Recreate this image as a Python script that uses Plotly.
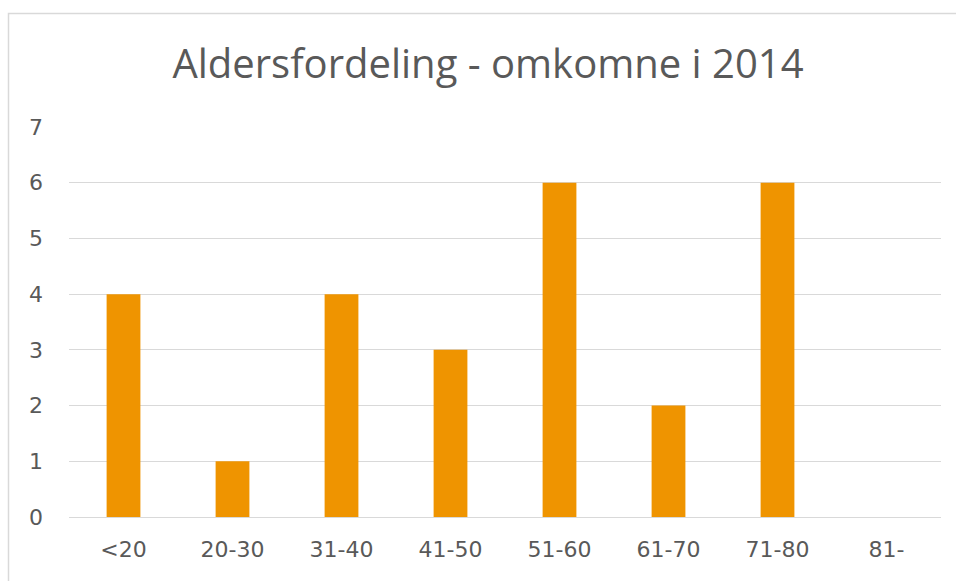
import plotly.graph_objects as go

categories = ["<20", "20-30", "31-40", "41-50", "51-60", "61-70", "71-80", "81-"]
values = [4, 1, 4, 3, 6, 2, 6, 0]
y_ticks = [0, 1, 2, 3, 4, 5, 6, 7]

W, H = 956, 581
L, R, T, B = 69, 15, 127, 64
pw, ph = W - L - R, H - T - B

def px_x(p):
    return (p - L) / pw

def px_y(p):
    return (H - B - p) / ph

fig = go.Figure(go.Bar(
    x=categories, y=values, width=0.31,
    marker=dict(color="#EF9400", line=dict(width=0)),
))

fig.update_layout(
    width=W, height=H,
    margin=dict(l=L, r=R, t=T, b=B),
    paper_bgcolor="white", plot_bgcolor="white",
    font=dict(family="DejaVu Sans", color="#595959", size=22),
    title=dict(text="Aldersfordeling - omkomne i 2014", x=488 / W, xanchor="center",
               y=1 - 64 / H, yanchor="middle",
               font=dict(family="Open Sans", size=40, color="#595959")),
    showlegend=False,
    shapes=[dict(type="rect", xref="paper", yref="paper",
                 x0=px_x(8.5), x1=px_x(1000), y0=px_y(640), y1=px_y(13.5),
                 line=dict(color="#D9D9D9", width=1.5), layer="below")],
)
fig.update_xaxes(showgrid=False, showline=False, ticks="", ticklabelstandoff=17,
                 tickfont=dict(size=22, color="#595959"))
fig.update_yaxes(range=[0, 7], tickvals=y_ticks, showgrid=True, gridcolor="#D9D9D9",
                 gridwidth=1.3, zeroline=True, zerolinecolor="#D9D9D9", zerolinewidth=1.3,
                 showline=False, ticks="", ticklabelstandoff=25,
                 tickfont=dict(size=22, color="#595959"))

fig.write_html(
    "out.html",
    config={"displayModeBar": False},
    post_script="document.body.style.margin='0';document.body.style.overflow='hidden';",
)
